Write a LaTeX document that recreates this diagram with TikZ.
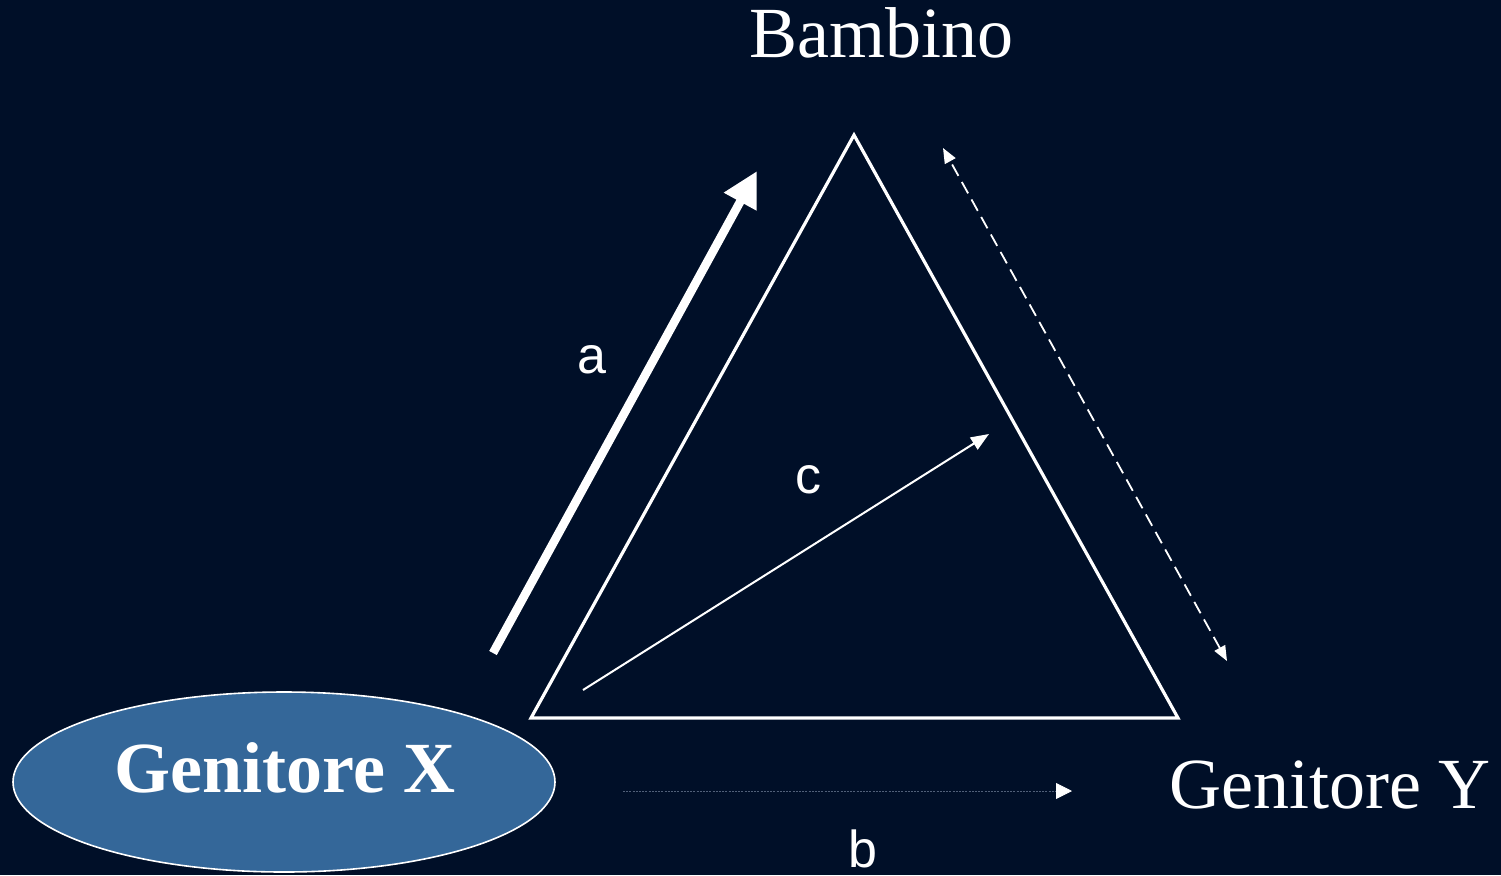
\documentclass[tikz,border=0pt]{standalone}
\usepackage{fontspec}
\setmainfont{Liberation Serif}
\newfontfamily\labfont{Liberation Sans}
\usetikzlibrary{arrows.meta}
\definecolor{bg}{RGB}{0,15,40}
\definecolor{ellfill}{RGB}{52,103,153}
\definecolor{bline}{RGB}{80,95,120}
\begin{document}
\begin{tikzpicture}[x=0.5pt,y=-0.5pt,
  title/.style={text=white,font=\fontsize{36}{40}\selectfont,anchor=base,inner sep=0pt},
  lab/.style={text=white,font=\labfont\fontsize{26}{30}\selectfont,anchor=base,inner sep=0pt},
  tri/.style={draw=white,line width=1.6pt,line join=miter},
  arrowa/.style={draw=white,line width=4.3pt,-{Triangle[length=17.5pt,width=17.5pt]}},
  arrowc/.style={draw=white,line width=1pt,-{Triangle[length=9pt,width=7pt]}},
  arrowd/.style={draw=white,line width=0.9pt,dash pattern=on 6.5pt off 3.5pt,{Triangle[length=7.5pt,width=6pt]}-{Triangle[length=7.5pt,width=6pt]}},
  arrowb/.style={draw=bline,line width=0.4pt,dash pattern=on 1pt off 0.6pt,-{Triangle[length=8pt,width=8pt,fill=white,color=white]}}
]
\fill[bg] (0,0) rectangle (1501,875);
\useasboundingbox (0,0) rectangle (1501,875);

% triangle
\coordinate (T) at (854,135);
\coordinate (L) at (531,718);
\coordinate (R) at (1178,718);
\draw[tri] (T) -- (L) -- (R) -- cycle;

% ellipse
\fill[ellfill,draw=white,line width=0.8pt] (284,782) ellipse [x radius=271,y radius=90];
\node[title,font=\bfseries\fontsize{36}{40}\selectfont] (gx) at (285,792) {Genitore X};

\node[title] (bam) at (881,57) {Bambino};
\node[title] (gy) at (1330,808) {Genitore Y};

% arrow endpoints
\coordinate (a1) at (493,653);
\coordinate (a2) at (757,171);
\coordinate (c1) at (583,690);
\coordinate (c2) at (989,434);
\coordinate (d1) at (943,148);
\coordinate (d2) at (1227,661);
\coordinate (b1) at (623,791);
\coordinate (b2) at (1072,791);

\draw[arrowa] (a1) -- (a2);
\draw[arrowc] (c1) -- (c2);
\draw[arrowd] (d2) -- (d1);
\draw[arrowb] (b1) -- (b2);

\node[lab] (la) at (592,373) {a};
\node[lab] (lc) at (808,493) {c};
\node[lab] (lb) at (863,867) {b};
\end{tikzpicture}
\end{document}
